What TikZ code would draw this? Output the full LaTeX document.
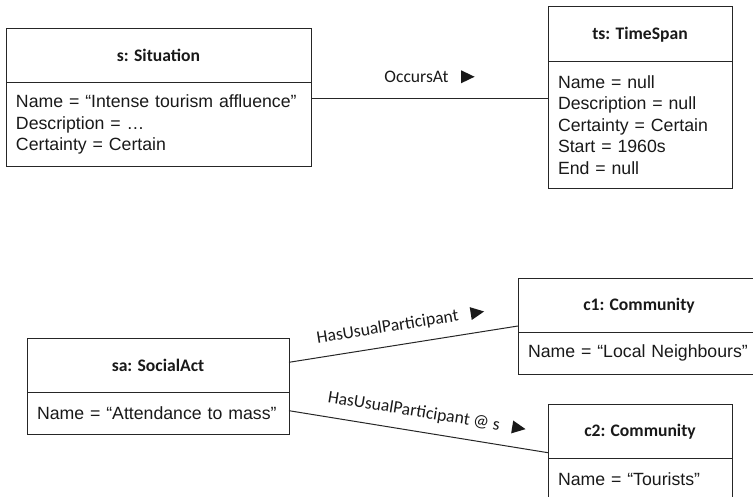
\documentclass[tikz,border=0pt]{standalone}
\usepackage{fontspec}
\setmainfont{Liberation Sans}
\newfontfamily\carlito{Carlito}
\usetikzlibrary{positioning}

% small filled direction marker for the link names
\newcommand{\dirarrow}{\tikz[baseline={(0,-5.3pt)}]\fill (0,-6.5pt) -- (0,6.5pt) -- (13.5pt,0) -- cycle;}

\tikzset{
  objtitle/.style={draw, outer sep=0pt, inner sep=0pt, anchor=north west,
    font=\carlito\bfseries\fontsize{17.6}{21}\selectfont},
  objattr/.style={draw, outer sep=0pt, inner xsep=10pt, inner ysep=0pt, align=left,
    font=\fontsize{17.7}{21.4}\selectfont},
  rel/.style={font=\carlito\fontsize{17.6}{21}\selectfont, sloped}
}

\begin{document}
\begin{tikzpicture}[x=1pt,y=-1pt,line width=1pt,draw=black!85,text=black!90]
	\useasboundingbox (0,0) rectangle (753,497);
	% situation and its time span
	\node[objtitle, minimum width=305pt, minimum height=53.5pt] (sit) at (6,29) {s: Situation};
	\node[objattr, text width=285pt, minimum height=84.2pt, below=0pt of sit] (sitattr)
		{Name = “Intense tourism affluence”\\Description = …\\Certainty = Certain};
	\node[objtitle, minimum width=184pt, minimum height=54.7pt] (ts) at (548,7) {ts: TimeSpan};
	\node[objattr, text width=164pt, minimum height=126.6pt, below=0pt of ts] (tsattr)
		{Name = null\\Description = null\\Certainty = Certain\\Start = 1960s\\End = null};
	\draw (sitattr.east |- 0,98.3) -- node[rel, above=11.5pt] {OccursAt\hspace{12.5pt}\dirarrow} (tsattr.west |- 0,98.3);
	% social act and the two communities
	\node[objtitle, minimum width=262pt, minimum height=53.7pt] (act) at (27,339) {sa: SocialAct};
	\node[objattr, text width=242pt, minimum height=41.3pt, below=0pt of act] (actattr)
		{Name = “Attendance to mass”};
	\node[objtitle, minimum width=242pt, minimum height=54pt] (c1) at (518,278.3) {c1: Community};
	\node[objattr, text width=222pt, minimum height=41.7pt, below=0pt of c1] (c1attr)
		{Name = “Local Neighbours”};
	\node[objtitle, minimum width=184pt, minimum height=54.4pt] (c2) at (548,404.3) {c2: Community};
	\node[objattr, text width=164pt, minimum height=41.7pt, below=0pt of c2] (c2attr)
		{Name = “Tourists”};
	\draw (act.east |- 0,362.3) -- node[rel, above=8pt] {HasUsualParticipant\hspace{12.5pt}\dirarrow} (c1.west |- 0,326);
	\draw (actattr.east |- 0,410.7) -- node[rel, above=8pt, pos=0.52] {HasUsualParticipant @ s\hspace{12.5pt}\dirarrow} (c2.west |- 0,452.7);
\end{tikzpicture}
\end{document}
